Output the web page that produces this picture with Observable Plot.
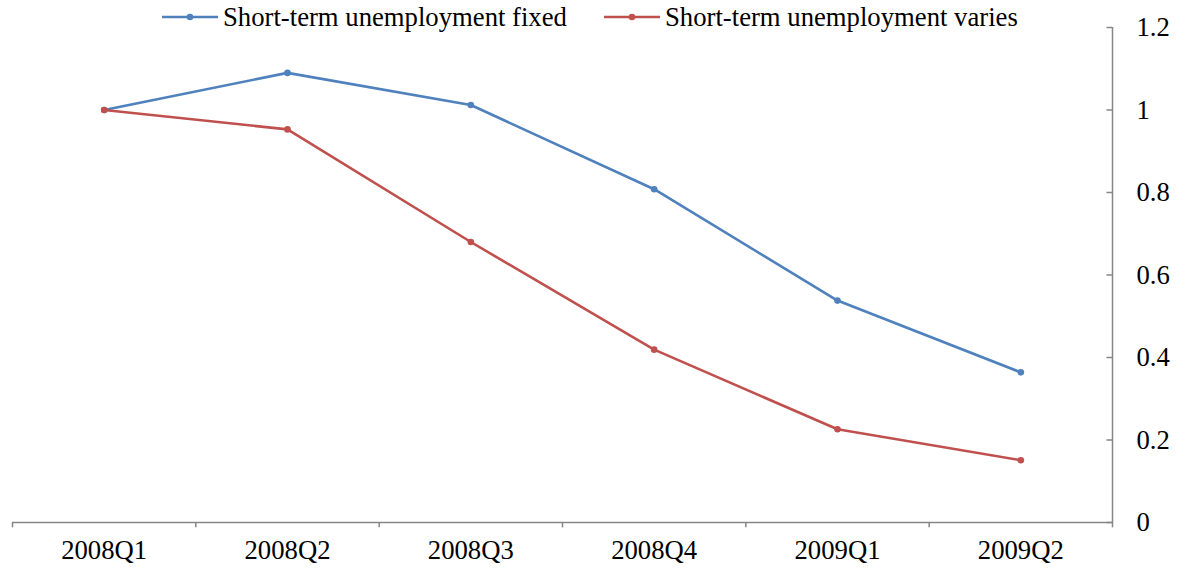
<!DOCTYPE html>
<html>
<head>
<meta charset="utf-8">
<script src="https://cdn.jsdelivr.net/npm/d3@7"></script>
<script src="https://cdn.jsdelivr.net/npm/@observablehq/plot@0.6"></script>
<style>
  html, body { margin: 0; padding: 0; background: #fff; }
  #wrap { position: relative; width: 1180px; height: 571px; font-family: "Liberation Serif", "Times New Roman", serif; }
  #legend { position: absolute; top: 2px; left: 0; width: 1180px; height: 30px; font-size: 26.7px; }
  .item { position: absolute; top: 0; display: flex; align-items: center; height: 30px; }
  .item svg { margin-right: 3px; }
</style>
</head>
<body>
<div id="wrap">
  <div id="chart"></div>
  <div id="legend"></div>
</div>
<script>
const categories = ["2008Q1", "2008Q2", "2008Q3", "2008Q4", "2009Q1", "2009Q2"];
const seriesNames = ["Short-term unemployment fixed", "Short-term unemployment varies"];
const fixedValues = [1.0, 1.09, 1.012, 0.808, 0.538, 0.364];
const variesValues = [1.0, 0.953, 0.68, 0.419, 0.226, 0.151];
const seriesColors = ["#4F81BD", "#C0504D"];
const yTicks = [0, 0.2, 0.4, 0.6, 0.8, 1, 1.2];

const rows = [];
categories.forEach((c, i) => {
  rows.push({series: seriesNames[0], cat: c, i, value: fixedValues[i]});
  rows.push({series: seriesNames[1], cat: c, i, value: variesValues[i]});
});
const boundaries = d3.range(categories.length + 1);
const axisGray = "#868686";
const n = categories.length;

const chart = Plot.plot({
  width: 1180,
  height: 571,
  marginLeft: 12,
  marginRight: 68,
  marginTop: 27,
  marginBottom: 49,
  style: {fontFamily: "Liberation Serif, Times New Roman, serif", fontSize: "26.7px", color: "#000", background: "#fff"},
  x: {type: "linear", domain: [0, n], axis: null},
  y: {type: "linear", domain: [0, 1.2], axis: null},
  color: {domain: seriesNames, range: seriesColors},
  marks: [
    // x axis line and boundary ticks (downward)
    Plot.ruleY([0], {stroke: axisGray, strokeWidth: 1.5}),
    Plot.ruleX(boundaries, {x: d => d, y1: 0, y2: -0.013, stroke: axisGray, strokeWidth: 1.5}),
    Plot.text(categories, {x: (d, i) => i + 0.5, y: 0, text: d => d, dy: 28, fontSize: 26.7, fill: "#000"}),
    // y axis on right, ticks pointing inward
    Plot.ruleX([n], {y1: 0, y2: 1.2, stroke: axisGray, strokeWidth: 1.5}),
    Plot.ruleY(yTicks, {x1: n - 0.03, x2: n, stroke: axisGray, strokeWidth: 1.5}),
    Plot.text(yTicks, {x: n, y: d => d, text: d => String(d), dx: 24, textAnchor: "start", fontSize: 26.7, fill: "#000"}),
    // lines
    Plot.line(rows, {x: d => d.i + 0.5, y: "value", z: "series", stroke: "series", strokeWidth: 2.6}),
    Plot.dot(rows, {x: d => d.i + 0.5, y: "value", fill: "series", r: 3.3})
  ]
});
document.getElementById("chart").appendChild(chart);

// Legend
const legend = document.getElementById("legend");
const legendX = [160, 602];
seriesNames.forEach((name, k) => {
  const item = document.createElement("div");
  item.className = "item";
  item.style.left = legendX[k] + "px";
  item.innerHTML = `<svg width="60" height="10"><line x1="2" x2="58" y1="5" y2="5" stroke="${seriesColors[k]}" stroke-width="2.6"/><circle cx="30" cy="5" r="3.3" fill="${seriesColors[k]}"/></svg><span>${name}</span>`;
  legend.appendChild(item);
});
</script>
</body>
</html>
